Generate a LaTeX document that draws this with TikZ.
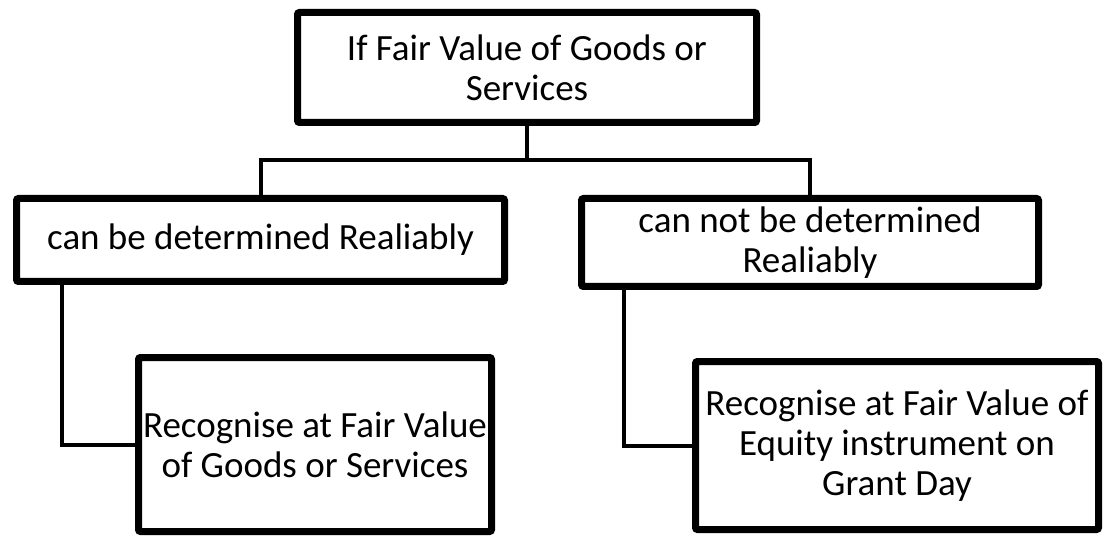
\documentclass[tikz,border=0pt]{standalone}
\usepackage{fontspec}
\setmainfont{Carlito}
\usepackage{tikz}
\usetikzlibrary{shadows}

\begin{document}
\begin{tikzpicture}[
  x=1pt, y=-1pt,
  box/.style={draw, fill=white, line width=7pt, rounded corners=2pt, inner sep=0pt, align=center,
    font=\fontsize{37}{40}\selectfont,
    drop shadow={shadow xshift=2pt, shadow yshift=-2.5pt, opacity=0.18, fill=gray}},
  link/.style={line width=4pt}
]
  \useasboundingbox (0,0) rectangle (1103,537);

  % Nodes
  \node[box, minimum width=459pt, minimum height=110pt] (fairvalue) at (527,67.5)
    {If Fair Value of Goods or\\Services};
  \node[box, minimum width=488pt, minimum height=83pt] (reliable) at (260.5,240)
    {can be determined Realiably};
  \node[box, minimum width=457pt, minimum height=88pt] (notreliable) at (810,242.5)
    {can not be determined\\Realiably};
  \node[box, minimum width=353pt, minimum height=174pt] (goods) at (315,444.5)
    {Recognise at Fair Value\\of Goods or Services};
  \node[box, minimum width=403pt, minimum height=168pt] (equity) at (897,445.5)
    {Recognise at Fair Value of\\Equity instrument on\\Grant Day};

  % Connectors
  \coordinate (split) at (527,160);
  \draw[link] (fairvalue.south) -- (split);
  \draw[link] (reliable.north) |- (split) -| (notreliable.north);
  \draw[link] ([xshift=48.5pt]reliable.south west) |- (goods.west);
  \draw[link] ([xshift=45.5pt]notreliable.south west) |- (equity.west);
\end{tikzpicture}
\end{document}
